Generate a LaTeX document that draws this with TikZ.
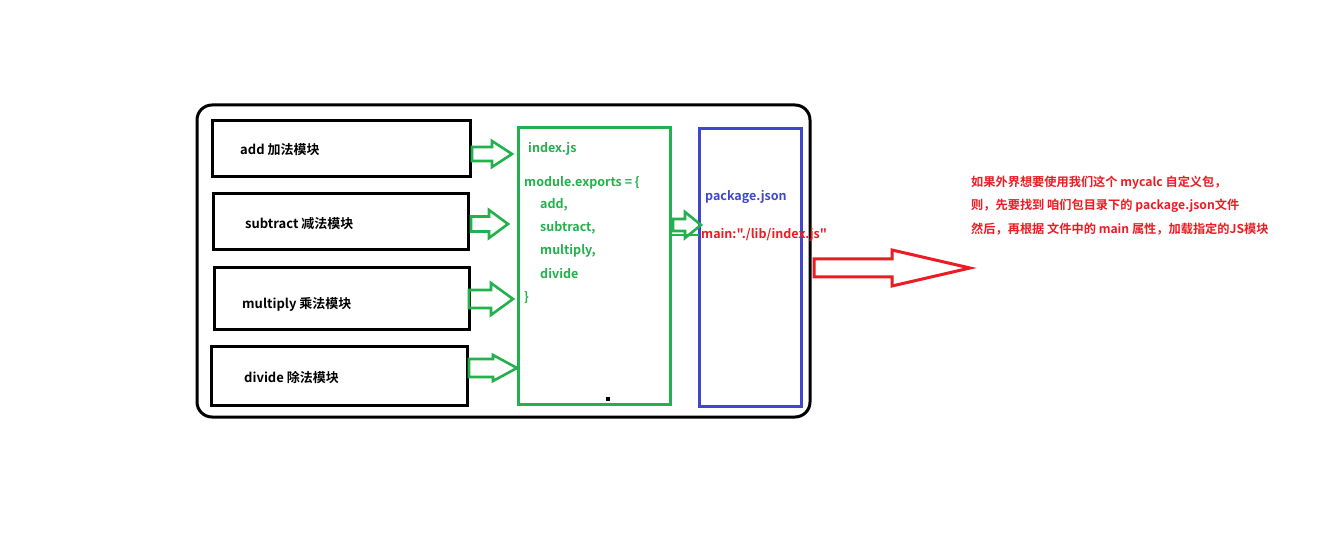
\documentclass[tikz,border=0pt]{standalone}
\usepackage{fontspec}
\setmainfont{Noto Sans CJK SC}[Ligatures=TeXOff,BoldFont={Noto Sans CJK SC Bold}]
\definecolor{pgreen}{HTML}{22B14C}
\definecolor{pblue}{HTML}{3F48CC}
\definecolor{pred}{HTML}{ED1C24}
% block arrow: colour, x start, x tip, y centre, half shaft, half head, head length
\newcommand\blockarrow[7]{%
  \draw[#1] (#2,#4-#5) -- (#3-#7,#4-#5) -- (#3-#7,#4-#6) -- (#3,#4)
    -- (#3-#7,#4+#6) -- (#3-#7,#4+#5) -- (#2,#4+#5) -- cycle;}
\begin{document}
\begin{tikzpicture}[x=1pt,y=-1pt,
  modbox/.style={draw=black,line width=3pt},
  lbl/.style={anchor=west,inner sep=0pt,font=\fontsize{13}{15}\selectfont\bfseries},
  garrow/.style={draw=pgreen,line width=2.6pt,line join=miter},
  rarrow/.style={draw=pred,line width=3pt,line join=miter}]
\useasboundingbox[fill=white] (0,0) rectangle (1333,545);

% outer frame
\draw[line width=3pt,rounded corners=15pt] (197,105) rectangle (810,417);

% module boxes
\draw[modbox] (212,121) rectangle (470,177);
\draw[modbox] (213,194) rectangle (468,250);
\draw[modbox] (214,268) rectangle (469,329);
\draw[modbox] (211,346) rectangle (467,405);
\node[lbl] (madd) at (240,150) {add 加法模块};
\node[lbl] (msub) at (245,224) {subtract 减法模块};
\node[lbl] (mmul) at (242,304) {multiply 乘法模块};
\node[lbl] (mdiv) at (244,377) {divide 除法模块};

% index.js box
\draw[draw=pgreen,line width=3pt] (518,128) rectangle (670,404);
\begin{scope}[every node/.style={lbl,text=pgreen,font=\fontsize{12.5}{15}\selectfont\bfseries}]
\node (idx) at (528,149) {index.js};
\node (mex) at (524,183) {module.exports = \{};
\node (ea) at (540,205) {add,};
\node (es) at (540,228) {subtract,};
\node (em) at (540,251) {multiply,};
\node (ed) at (540,274) {divide};
\node (ec) at (524,298) {\}};
\end{scope}
\fill[black] (606,397) rectangle (610,401);

% package.json box
\draw[draw=pblue,line width=3pt] (699,129) rectangle (801,406);
\node[lbl,text=pblue,font=\fontsize{12.5}{15}\selectfont\bfseries] (pkg) at (705,197) {package.json};
\node[lbl,text=pred,font=\fontsize{12.5}{15}\selectfont\bfseries] (main) at (701,235) {main:"./lib/index.js"};

% arrows into index.js
\blockarrow{garrow}{472}{512}{154}{7}{13}{20}
\blockarrow{garrow}{471}{508}{224}{7.5}{14}{19}
\blockarrow{garrow}{469}{513}{299}{9}{16}{22}
\blockarrow{garrow}{469}{517}{368}{9}{13}{24}

% index.js -> package.json
\blockarrow{garrow}{673}{701}{225}{6}{13}{16}
\draw[pgreen,line width=2.6pt] (670,235) -- (699,235);

% red outgoing arrow
\blockarrow{rarrow}{814}{970}{268}{9}{18}{78}

% explanation
\begin{scope}[every node/.style={lbl,text=pred,font=\fontsize{12.2}{14}\selectfont\bfseries}]
\node (t1) at (971,183) {如果外界想要使用我们这个 mycalc 自定义包，};
\node (t2) at (971,206) {则，先要找到 咱们包目录下的 package.json文件};
\node (t3) at (971,229) {然后，再根据 文件中的 main 属性，加载指定的JS模块};
\end{scope}
\end{tikzpicture}
\end{document}
